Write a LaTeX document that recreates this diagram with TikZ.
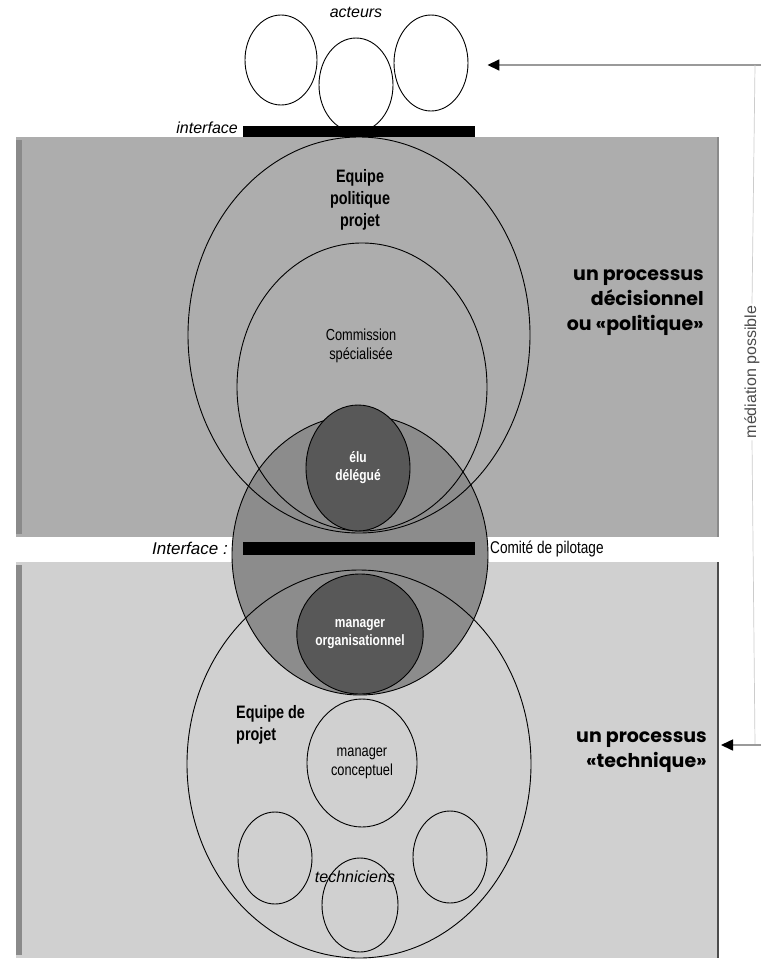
\documentclass[tikz,border=0pt]{standalone}
\usepackage{fontspec}
\setmainfont{Liberation Sans}
\newfontfamily\condfont[FakeStretch=0.8]{Liberation Sans}
\newfontfamily\procfont{Poppins}
\usetikzlibrary{shapes.geometric,arrows.meta}

\definecolor{panelA}{HTML}{ADADAD}
\definecolor{panelB}{HTML}{D0D0D0}
\definecolor{overlapgray}{HTML}{8C8C8C}
\definecolor{coregray}{HTML}{585858}
\definecolor{edgegray}{HTML}{8A8A8A}
\definecolor{mediagray}{HTML}{9A9A9A}

\tikzset{
  circ/.style={ellipse, draw=black, line width=0.9pt, inner sep=0pt},
  core/.style={circ, fill=coregray, text=white, font=\condfont\bfseries\fontsize{15}{18}\selectfont, align=center},
  label/.style={font=\condfont\fontsize{16}{19}\selectfont, align=center, inner sep=0pt},
  boldlabel/.style={font=\condfont\bfseries\fontsize{18}{22}\selectfont, inner sep=0pt},
  itlabel/.style={font=\itshape\fontsize{16}{18}\selectfont, inner sep=0pt},
  proc/.style={font=\procfont\bfseries\fontsize{19}{25}\selectfont, align=right, inner sep=0pt},
  bar/.style={fill=black, draw=none},
  media/.style={draw=mediagray, line width=1.6pt},
  mediatip/.style={-{Triangle[length=12pt,width=11pt,color=black]}, media}
}

\begin{document}
\begin{tikzpicture}[x=1pt,y=-1pt]
\useasboundingbox[fill=white] (0,0) rectangle (761,964);

% ---- the two process panels ----
\fill[panelA] (16,137) rectangle (718,537);
\fill[panelB] (16,562) rectangle (718,958);
\draw[edgegray, line width=6pt] (19,140) -- (19,534);
\draw[edgegray, line width=6pt] (19,565) -- (19,955);
\draw[edgegray, line width=1.5pt] (718,137) -- (718,537);
\draw[black!70, line width=1.5pt] (718,562) -- (718,958);

% ---- overlap zone between the two teams ----
\node[circ, fill=overlapgray, minimum width=256, minimum height=280] (overlap) at (360,555) {};

% ---- political team circles ----
\node[circ, minimum width=342, minimum height=396] (equipol) at (359,335) {};
\node[circ, minimum width=250, minimum height=288] (commission) at (362,387) {};

% ---- project team circle ----
\node[circ, minimum width=344, minimum height=388] (equiproj) at (359,764) {};

% ---- core roles ----
\node[core, minimum width=104, minimum height=126] (elu) at (358,468) {élu\\délégué};
\node[core, minimum width=112, minimum height=120] (mgrorg) at (360,634) {manager\\organisationnel};
\node[circ, minimum width=110, minimum height=128, font=\condfont\fontsize{16}{19}\selectfont, align=center] (mgrconc) at (362,763) {manager\\conceptuel};

% ---- technicians ----
\node[circ, minimum width=74, minimum height=92] (tech1) at (275,858) {};
\node[circ, minimum width=74, minimum height=92] (tech2) at (450,857) {};
\node[circ, minimum width=76, minimum height=94] (tech3) at (360,905) {};
\node[itlabel] (techlbl) at (355,877) {techniciens};

% ---- actors ----
\node[circ, minimum width=72, minimum height=90] (act1) at (281,60) {};
\node[circ, minimum width=74, minimum height=94] (act2) at (356,85) {};
\node[circ, minimum width=74, minimum height=96] (act3) at (431,63) {};
\node[itlabel] (actlbl) at (356,12) {acteurs};

% ---- interfaces ----
\fill[bar] (243,126) rectangle (475,137);
\node[itlabel, anchor=east] (iface1) at (238,128) {interface};
\fill[bar] (243,542) rectangle (475,555);
\node[itlabel, anchor=east, font=\itshape\fontsize{17}{19}\selectfont] (iface2) at (228,548) {Interface :};
\node[label, anchor=west, font=\condfont\fontsize{17}{19}\selectfont] (comite) at (490,549) {Comité de pilotage};

% ---- team labels ----
\node[boldlabel, align=center] (polname) at (360,200) {Equipe\\politique\\projet};
\node[label] (comname) at (361,346) {Commission\\spécialisée};
\node[boldlabel, align=left, anchor=north west] (projname) at (236,705) {Equipe de\\projet};

% ---- process labels ----
\node[proc, anchor=north east] (procpol) at (704,270) {un processus\\décisionnel\\ou «politique»};
\node[proc, anchor=north east] (proctech) at (707,732) {un processus\\«technique»};

% ---- mediation link ----
\coordinate (medtop) at (761,65);
\coordinate (medcorner) at (755,65);
\coordinate (medbot) at (761,745);
\coordinate (medcornerb) at (755,745);
\coordinate (techtip) at (721,745);
\node[rotate=90, text=black!70, font=\fontsize{16}{18}\selectfont, inner sep=2pt] (medtxt) at (752,372) {médiation possible};
\draw[mediatip, shorten >=19pt] (medtop) -- (act3.east |- medtop);
\draw[draw=black!20, line width=0.7pt] (medcorner) -- (medtxt.east);
\draw[draw=black!20, line width=0.7pt] (medtxt.west) -- (medcornerb);
\draw[mediatip] (medbot) -- (techtip);
\end{tikzpicture}
\end{document}
